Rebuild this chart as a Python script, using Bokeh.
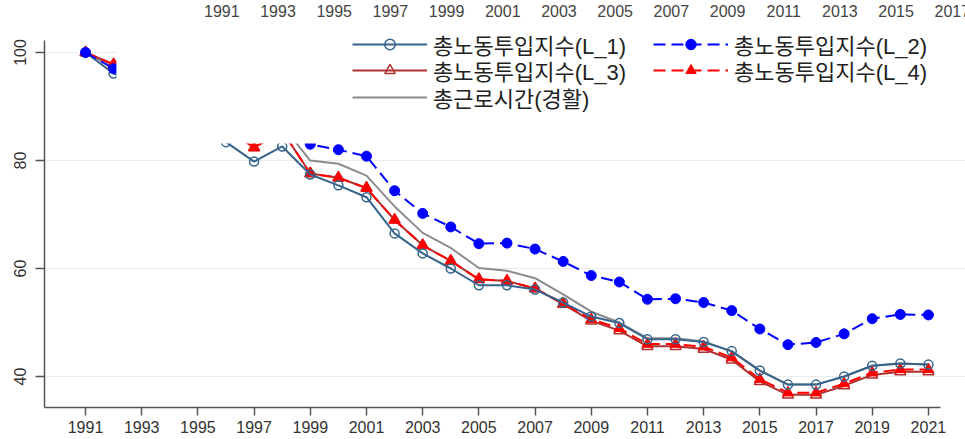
from bokeh.plotting import figure
from bokeh.models import (Range1d, FixedTicker, Legend, LegendItem, ColumnDataSource)
from bokeh.core.properties import value
from bokeh.embed import file_html
from bokeh.resources import INLINE

# ---- data -------------------------------------------------------------
years = list(range(1991, 2022))

labor_L1 = [100.0, 96.1, 94.0, 91.5, 88.0, 83.4, 79.8, 82.6, 77.4, 75.4,
            73.2, 66.5, 62.8, 60.0, 56.9, 56.9, 56.1, 53.7, 51.1, 49.9,
            46.9, 46.9, 46.4, 44.7, 41.1, 38.5, 38.5, 40.0, 42.0, 42.4, 42.2]
labor_L2 = [100.0, 97.0, 95.5, 93.5, 91.5, 89.0, 86.5, 86.0, 83.0, 82.0,
            80.8, 74.4, 70.2, 67.7, 64.6, 64.7, 63.6, 61.3, 58.7, 57.5,
            54.3, 54.4, 53.7, 52.2, 48.8, 45.9, 46.3, 47.9, 50.7, 51.5, 51.4]
labor_L3 = [100.0, 97.8, 95.5, 93.0, 90.0, 86.0, 82.4, 85.5, 77.6, 76.8,
            74.9, 69.0, 64.3, 61.4, 58.0, 57.7, 56.3, 53.4, 50.3, 48.5,
            45.6, 45.6, 45.1, 43.1, 39.1, 36.6, 36.6, 38.3, 40.3, 40.9, 40.9]
labor_L4 = [100.0, 97.8, 95.5, 93.0, 90.0, 86.0, 82.4, 85.5, 77.6, 76.8,
            74.9, 69.0, 64.3, 61.4, 58.0, 57.7, 56.3, 53.5, 50.6, 48.9,
            46.0, 46.0, 45.5, 43.5, 39.5, 37.0, 37.0, 38.7, 40.7, 41.3, 41.3]
hours_total = [100.0, 97.2, 96.0, 94.0, 91.5, 88.0, 85.0, 86.5, 80.0, 79.4,
               77.2, 71.5, 66.6, 63.8, 60.1, 59.6, 58.2, 55.2, 52.0, 50.0,
               47.1, 47.1, 46.5, 44.6, 41.1, 38.5, 38.5, 40.0, 42.0, 42.4, 42.2]

x_ticks = list(range(1991, 2022, 2))
y_ticks = [40, 60, 80, 100]
top_ticks = list(range(1991, 2018, 2))

names = ["총노동투입지수(L_1)", "총노동투입지수(L_2)", "총노동투입지수(L_3)",
         "총노동투입지수(L_4)", "총근로시간(경활)"]

# ---- figure -----------------------------------------------------------
x0, x1 = 1989.54, 2022.32
y0, y1 = 34.26, 109.63
px_per_unit = 407 / (y1 - y0)

p = figure(width=965, height=439, output_backend="svg", toolbar_location=None,
           x_range=Range1d(x0, x1), y_range=Range1d(y0, y1),
           min_border_left=44, min_border_right=0, min_border_top=0,
           min_border_bottom=32)
p.outline_line_color = None
p.background_fill_color = "white"
p.border_fill_color = "white"

p.xgrid.visible = False
p.ygrid.ticker = FixedTicker(ticks=y_ticks)
p.ygrid.grid_line_color = "#ececec"
p.ygrid.grid_line_width = 1

tick_font = "Liberation Sans"
for ax in (p.xaxis[0], p.yaxis[0]):
    ax.axis_line_color = "#555555"
    ax.axis_line_width = 1.5
    ax.major_tick_line_color = "#555555"
    ax.major_tick_line_width = 1.5
    ax.major_tick_in = 0
    ax.minor_tick_line_color = None
    ax.major_label_text_font = tick_font
    ax.major_label_text_font_size = "16px"
    ax.major_label_text_color = "#333333"

p.xaxis.ticker = FixedTicker(ticks=x_ticks)
p.xaxis.bounds = (x0, 2021.43)
p.xaxis.major_tick_out = 8
p.xaxis.major_label_standoff = 5

p.yaxis.ticker = FixedTicker(ticks=y_ticks)
p.yaxis.bounds = (y0, 102.2)
p.yaxis.major_tick_out = 9
p.yaxis.major_label_standoff = 9
p.yaxis.major_label_orientation = "vertical"

src = ColumnDataSource(dict(x=years, l1=labor_L1, l2=labor_L2, l3=labor_L3,
                            l4=labor_L4, h=hours_total))

c_l1 = "#36648B"
c_l2 = "#0000FF"
c_l3 = "#B03030"
c_l4 = "#FF0000"
c_h = "#8C8C8C"

r_h = p.line("x", "h", source=src, line_color=c_h, line_width=2)

r_l3_line = p.line("x", "l3", source=src, line_color=c_l3, line_width=2)
r_l3_pt = p.scatter("x", "l3", source=src, marker="triangle", size=11,
                    line_color=c_l3, line_width=1.5, fill_alpha=0)

r_l4_line = p.line("x", "l4", source=src, line_color=c_l4, line_width=2,
                   line_dash="12 6")
r_l4_pt = p.scatter("x", "l4", source=src, marker="triangle", size=11,
                    line_color=c_l4, fill_color=c_l4)

r_l1_line = p.line("x", "l1", source=src, line_color=c_l1, line_width=2)
r_l1_pt = p.scatter("x", "l1", source=src, marker="circle", size=9,
                    line_color=c_l1, line_width=1.5, fill_alpha=0)

r_l2_line = p.line("x", "l2", source=src, line_color=c_l2, line_width=2,
                   line_dash="12 6")
r_l2_pt = p.scatter("x", "l2", source=src, marker="circle", size=10,
                    line_color=c_l2, fill_color=c_l2)

# white panel behind the legend and the upper year strip
p.quad(left=[1992.1], right=[x1], bottom=[83.15], top=[y1],
       fill_color="white", line_color=None)

# year strip along the top edge
top_offset = 4.85
p.text(x=[t + top_offset for t in top_ticks],
       y=[y1 - 10 / px_per_unit] * len(top_ticks),
       text=[str(t) for t in top_ticks], text_align="center",
       text_baseline="alphabetic", text_font=value(tick_font),
       text_font_size="16px", text_color="#444444")

# Latin metrics for the row height, Hangul glyphs fall back to the CJK face
legend_font = "Liberation Sans, 'Noto Sans CJK KR'"
legend_size = 22
item_h = 26


def add_legend_row(label, renderers, left_px, center_from_top):
    bottom = 407 - center_from_top - item_h / 2
    lg = Legend(items=[LegendItem(label=label, renderers=renderers)],
                location=(left_px - 44, bottom), orientation="vertical")
    lg.padding = 0
    lg.margin = 0
    lg.spacing = 0
    lg.glyph_width = 75
    lg.glyph_height = item_h
    lg.label_height = item_h
    lg.label_standoff = 6
    lg.label_text_font = legend_font
    lg.label_text_font_size = f"{legend_size}px"
    lg.label_text_color = "#222222"
    lg.border_line_alpha = 0
    lg.background_fill_alpha = 0
    p.add_layout(lg)


add_legend_row(names[0], [r_l1_line, r_l1_pt], 352, 47)
add_legend_row(names[2], [r_l3_line, r_l3_pt], 352, 73)
add_legend_row(names[4], [r_h], 352, 100)
add_legend_row(names[1], [r_l2_line, r_l2_pt], 653, 47)
add_legend_row(names[3], [r_l4_line, r_l4_pt], 653, 73)

open("out.html", "w").write(file_html(p, INLINE))
